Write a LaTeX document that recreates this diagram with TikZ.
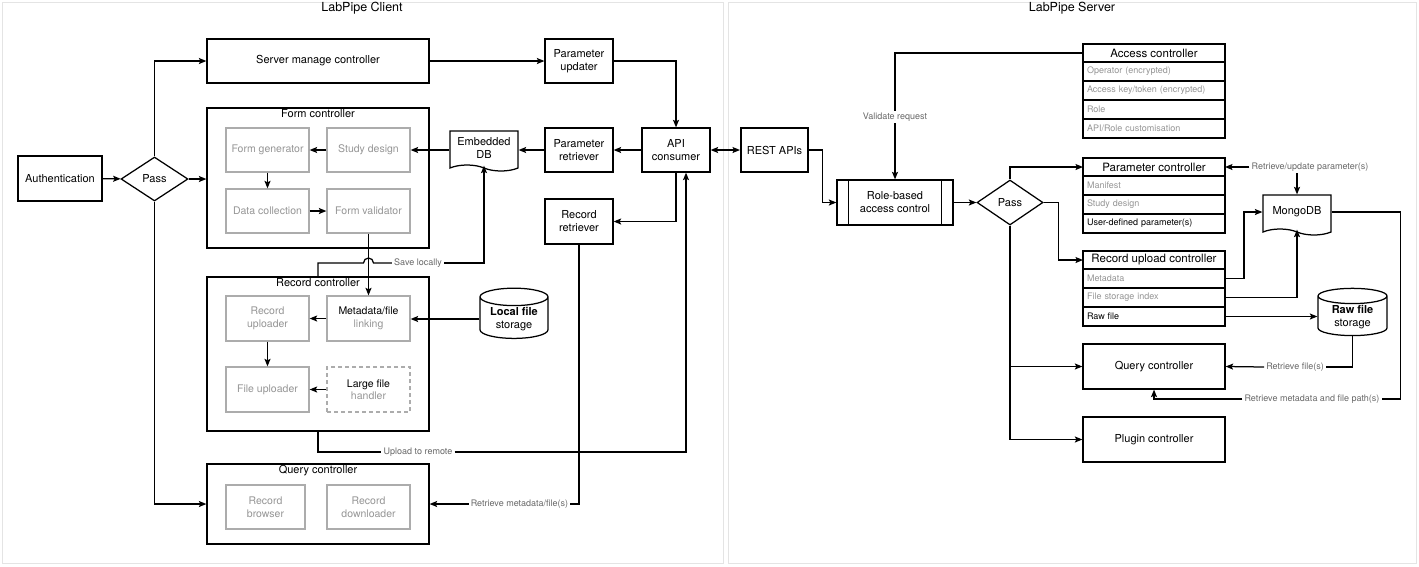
\documentclass[tikz,border=0pt]{standalone}
\usepackage{fontspec}
\setmainfont{TeX Gyre Heros}
\usetikzlibrary{arrows.meta,positioning,calc,shapes.geometric,shapes.symbols}
\definecolor{panelline}{RGB}{228,228,228}
\definecolor{subline}{RGB}{172,172,172}
\definecolor{subtext}{RGB}{150,150,150}
\definecolor{lbltext}{RGB}{105,105,105}
\tikzset{
  mbox/.style={draw, line width=1.25pt, align=center, inner sep=2pt, font=\fontsize{11}{13}\selectfont},
  sbox/.style={draw=subline, line width=1.25pt, text=subtext, align=center, minimum width=83pt,
               minimum height=44pt, inner sep=1pt, font=\fontsize{10.5}{12.5}\selectfont},
  grp/.style={draw, line width=1.25pt, minimum width=222pt},
  gtitle/.style={inner sep=1pt, anchor=north, font=\fontsize{11}{13}\selectfont},
  pass/.style={diamond, draw, line width=1.25pt, minimum width=67pt, minimum height=44pt,
               inner sep=0pt, font=\fontsize{11}{13}\selectfont},
  doc/.style={tape, tape bend top=none, tape bend bottom=out and in, tape bend height=6pt, draw,
              line width=1.25pt, minimum width=68pt, minimum height=40pt, align=center,
              font=\fontsize{11}{13}\selectfont},
  store/.style={cylinder, shape border rotate=90, shape aspect=0.35, draw, line width=1.25pt,
                minimum width=68pt, minimum height=44pt, align=center, inner sep=1pt,
                font=\fontsize{11}{13}\selectfont},
  thead/.style={draw, line width=1.25pt, outer sep=0pt, minimum width=142pt, minimum height=18pt,
                inner sep=1pt, font=\fontsize{11.5}{13}\selectfont},
  trow/.style={draw, line width=1.25pt, outer sep=0pt, minimum height=19pt, text width=134pt,
               inner xsep=4pt, inner ysep=0pt, align=left, text=subtext, font=\fontsize{9}{11}\selectfont},
  lbl/.style={inner sep=2pt, text=lbltext, font=\fontsize{9}{11}\selectfont},
  arr/.style={-{Stealth[length=7.5pt,width=6pt,inset=1.5pt]}, line width=1.25pt},
  arrs/.style={{Stealth[length=7.5pt,width=6pt,inset=1.5pt]}-{Stealth[length=7.5pt,width=6pt,inset=1.5pt]},
               line width=1.25pt},
  link/.style={line width=1.25pt},
  panel/.style={draw=panelline, line width=1pt, fill=white},
}

\begin{document}
\begin{tikzpicture}[x=1pt, y=-1pt]
  \useasboundingbox (0,0) rectangle (1419,566);
  \draw[panel] (2,2) rectangle (723,563);
  \draw[panel] (728,2) rectangle (1416,563);
  \node[font=\fontsize{12.5}{14}\selectfont] (client) at (362,8) {LabPipe Client};
  \node[font=\fontsize{12.5}{14}\selectfont] (server) at (1072,8) {LabPipe Server};

  % client side
  \node[mbox, minimum width=84pt, minimum height=45pt] (auth) at (60,178.5) {Authentication};
  \node[pass] (cpass) at (154.5,179) {Pass};
  \node[mbox, minimum width=222pt, minimum height=44pt] (smc) at (318,61) {Server manage controller};

  \node[grp, minimum height=140pt] (formctl) at (318,178) {};
  \node[gtitle, below=1pt of formctl.north] (formt) {Form controller};
  \node[sbox] (fgen) at (267.5,150) {Form generator};
  \node[sbox] (sdes) at (368.5,150) {Study design};
  \node[sbox] (dcol) at (267.5,211) {Data collection};
  \node[sbox] (fval) at (368.5,211) {Form validator};

  \node[grp, minimum height=154pt] (recctl) at (318,354) {};
  \node[gtitle, below=1pt of recctl.north] (rect) {Record controller};
  \node[sbox, minimum height=45pt] (rupl) at (267.5,318.5) {Record\\uploader};
  \node[sbox, minimum height=45pt] (mlink) at (368.5,318.5) {\textcolor{black}{Metadata/file}\\linking};
  \node[sbox, minimum height=45pt] (fupl) at (267.5,389.5) {File uploader};
  \node[sbox, minimum height=45pt, dash pattern=on 4pt off 3pt] (lfh) at (368.5,389.5) {\textcolor{black}{Large file}\\handler};

  \node[grp, minimum height=80pt] (qctl) at (318,504) {};
  \node[gtitle, below=1pt of qctl.north] (qt) {Query controller};
  \node[sbox, minimum width=79pt] (rbrow) at (265.5,507) {Record\\browser};
  \node[sbox] (rdown) at (368.5,507) {Record\\downloader};

  \node[mbox, minimum width=68pt, minimum height=44pt] (pupd) at (579,61) {Parameter\\updater};
  \node[doc] (edb) at (484,148) {Embedded\\DB};
  \node[mbox, minimum width=68pt, minimum height=44pt] (pret) at (579,150) {Parameter\\retriever};
  \node[mbox, minimum width=68pt, minimum height=44pt] (api) at (676,150) {API\\consumer};
  \node[mbox, minimum width=68pt, minimum height=45pt] (rret) at (579,221.5) {Record\\retriever};
  \node[store] (lfs) at (514,319) {\textbf{Local file}\\storage};

  \node[lbl] (lsave) at (418,263) {Save locally};
  \node[lbl] (lup) at (418,452) {Upload to remote};
  \node[lbl] (lretr) at (519.5,504) {Retrieve metadata/file(s)};

  \draw[arr] (auth) -- (cpass);
  \draw[arr] (cpass.north) |- (smc.west);
  \draw[arr] (cpass.east) -- (cpass.east -| formctl.west);
  \draw[arr] (cpass.south) |- (qctl.west);
  \draw[arr] (smc) -- (pupd);
  \draw[arr] (pupd.east) -| (api.north);
  \draw[arr] (api.west) -- (pret.east);
  \draw[arr] (pret.west) -- (pret.west -| edb.east);
  \draw[arr] (sdes.east -| edb.west) -- (sdes.east);
  \draw[arr] (sdes) -- (fgen);
  \draw[arr] (fgen) -- (dcol);
  \draw[arr] (dcol) -- (fval);
  \draw[arr] (fval.south) -- (mlink.north);
  \draw[arr] (mlink) -- (rupl);
  \draw[arr] (rupl) -- (fupl);
  \draw[arr] (lfh) -- (fupl);
  \draw[arr] (lfs.west) -- (lfs.west -| mlink.east);
  \coordinate (hop) at ($(fval.south |- lsave.west)+(-5,0)$);
  \draw[link] (recctl.north) |- (hop) arc[start angle=180, end angle=0, radius=5pt] -- (lsave.west);
  \draw[arr] (lsave.east) -| (edb.south);
  \draw[link] (recctl.south) |- (lup.west);
  \draw[arr] (lup.east) -| ([xshift=10pt]api.south);
  \draw[arr] (api.south) |- (rret.east);
  \draw[link] (rret.south) |- (lretr.east);
  \draw[arr] (lretr.west) -- (qctl.east);
  \draw[arrs] (api) -- (api -| 740,0);

  % server side
  \node[mbox, minimum width=67pt, minimum height=44pt] (rest) at (774.5,150) {REST APIs};
  \node[mbox, minimum width=116pt, minimum height=45pt] (rbac) at (895,202.5) {Role-based\\access control};
  \draw[link] ([xshift=12pt]rbac.north west) -- ([xshift=12pt]rbac.south west);
  \draw[link] ([xshift=-12pt]rbac.north east) -- ([xshift=-12pt]rbac.south east);
  \node[pass, minimum width=66pt, minimum height=45pt] (spass) at (1010,202.5) {Pass};

  \node[thead] (acc) at (1154,53) {Access controller};
  \node[trow, below=0pt of acc] (acc1) {Operator (encrypted)};
  \node[trow, below=0pt of acc1] (acc2) {Access key/token (encrypted)};
  \node[trow, below=0pt of acc2] (acc3) {Role};
  \node[trow, below=0pt of acc3] (acc4) {API/Role customisation};

  \node[thead] (pctl) at (1154,167) {Parameter controller};
  \node[trow, below=0pt of pctl] (pc1) {Manifest};
  \node[trow, below=0pt of pc1] (pc2) {Study design};
  \node[trow, below=0pt of pc2, text=black] (pc3) {User-defined parameter(s)};

  \node[thead] (ructl) at (1154,260) {Record upload controller};
  \node[trow, below=0pt of ructl] (ru1) {Metadata};
  \node[trow, below=0pt of ru1] (ru2) {File storage index};
  \node[trow, below=0pt of ru2, text=black] (ru3) {Raw file};

  \node[mbox, minimum width=142pt, minimum height=45pt] (sq) at (1154,366.5) {Query controller};
  \node[mbox, minimum width=142pt, minimum height=45pt] (plug) at (1154,439.5) {Plugin controller};
  \node[doc] (mongo) at (1297,212) {MongoDB};
  \node[store, minimum width=69pt, minimum height=40pt] (rfs) at (1352.5,317) {\textbf{Raw file}\\storage};

  \node[lbl] (lval) at (895,117) {Validate request};
  \node[lbl] (lpar) at (1310,167) {Retrieve/update parameter(s)};
  \node[lbl] (lrf) at (1295,367) {Retrieve file(s)};
  \node[lbl] (lmp) at (1312,399) {Retrieve metadata and file path(s)};

  \draw[arr] (rest.east) -- ++(14,0) |- (rbac.west);
  \draw[link] (acc.west) -| (lval.north);
  \draw[arr] (lval.south) -- (rbac.north);
  \draw[arr] (rbac) -- (spass);
  \draw[arr] (spass.north) |- (pctl.west);
  \draw[arr] (spass.east) -- ++(15,0) |- (ructl.west);
  \draw[arr] (spass.south) |- (plug.west);
  \draw[arr] (spass.south |- sq.west) -- (sq.west);
  \draw[arr] (lpar.west) -- (pctl.east);
  \draw[arr] (lpar.south -| mongo.north) -- (mongo.north);
  \draw[arr] (ru1.east) -- ++(19,0) |- (mongo.west);
  \draw[arr] (ru2.east) -| (mongo.south);
  \draw[arr] (ru3.east) -- (ru3.east -| rfs.west);
  \draw[link] (rfs.south) |- (lrf.east);
  \draw[arr] (lrf.west) -- (sq.east);
  \draw[link] (mongo.east) -- ++(69,0) |- (lmp.east);
  \draw[arr] (lmp.west) -| (sq.south);
\end{tikzpicture}
\end{document}
